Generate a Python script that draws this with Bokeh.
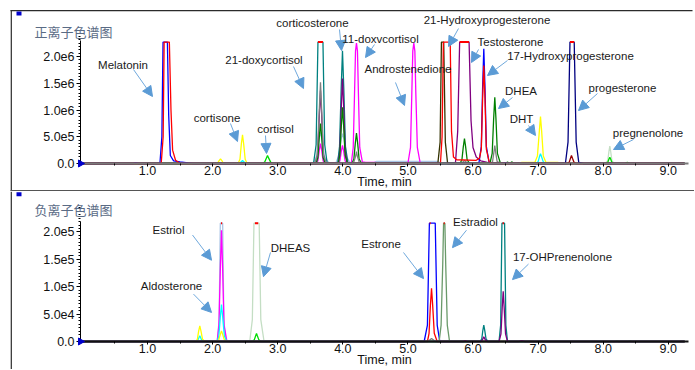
import numpy as np
from bokeh.plotting import figure
from bokeh.models import Range1d, FixedTicker, Label, Arrow, NormalHead, BoxAnnotation
from bokeh.layouts import column
from bokeh.embed import file_html
from bokeh.resources import INLINE

# ---------------- data ----------------
C = 2.27   # saturation level, positive panel (x 1e6)
B = 2.16   # saturation level, negative panel (x 1e5)

x_ticks = [1, 2, 3, 4, 5, 6, 7, 8, 9]
x_labels = ["1.0", "2.0", "3.0", "4.0", "5.0", "6.0", "7.0", "8.0", "9.0"]
pos_yticks = [0, 500000, 1000000, 1500000, 2000000]
pos_ylabels = ["0.0", "5.0e5", "1.0e6", "1.5e6", "2.0e6"]
neg_yticks = [0, 50000, 100000, 150000, 200000]
neg_ylabels = ["0.0", "5.0e4", "1.0e5", "1.5e5", "2.0e5"]

# positive-ion chromatogram traces (time, intensity x 1e6)
pos_lightblue_t = [0.0, 3.55, 3.60, 3.635, 3.657, 3.68, 3.72, 3.78, 3.89, 3.94, 3.975, 3.995, 4.02, 4.06, 4.12, 4.45, 4.52, 5.00, 5.45, 5.52, 9.25]
pos_lightblue_i = [0, 0, 0.15, 0.45, 0.58, 0.45, 0.12, 0.02, 0, 0.15, 0.45, 0.56, 0.45, 0.12, 0, 0, 0.04, 0.04, 0.04, 0, 0]
pos_teal_t = [0.0, 3.55, 3.59, 3.618, 3.695, 3.722, 3.76, 3.92, 3.950, 3.975, 3.995, 4.015, 4.040, 4.08, 9.25]
pos_teal_i = [0, 0, 0.35, C, C, 0.35, 0, 0, 0.32, 1.40, 2.11, 1.40, 0.32, 0, 0]
pos_magenta_t = [0.0, 3.59, 3.617, 3.639, 3.657, 3.675, 3.697, 3.73, 3.93, 3.955, 3.977, 3.995, 4.013, 4.035, 4.07, 4.13, 4.16, 4.18, 4.195, 4.21, 4.225, 4.24, 4.26, 4.30, 4.35, 4.50, 4.55, 5.00, 5.04, 5.06, 5.075, 5.091, 5.107, 5.122, 5.145, 5.19, 9.25]
pos_magenta_i = [0, 0, 0.05, 0.25, 0.374, 0.25, 0.05, 0, 0, 0.05, 0.23, 0.34, 0.23, 0.05, 0, 0, 0.3, 1.3, 2.1, 2.25, 2.1, 1.3, 0.3, 0.03, 0.02, 0.02, 0, 0, 0.3, 1.3, 2.1, 2.25, 2.1, 1.3, 0.3, 0, 0]
pos_purple_t = [0.0, 3.59, 3.617, 3.639, 3.657, 3.675, 3.697, 3.73, 3.93, 3.955, 3.977, 3.995, 4.013, 4.035, 4.07, 5.73, 5.765, 5.795, 5.94, 5.97, 6.00, 6.05, 6.12, 6.22, 6.30, 9.25]
pos_purple_i = [0, 0, 0.2, 0.91, 1.365, 0.91, 0.2, 0, 0, 0.24, 1.06, 1.59, 1.06, 0.24, 0, 0, 0.6, C, C, 0.8, 0.3, 0.12, 0.05, 0.02, 0, 0]
pos_darkgreen_t = [0.0, 3.59, 3.617, 3.639, 3.657, 3.675, 3.697, 3.73, 3.93, 3.955, 3.977, 3.995, 4.013, 4.035, 4.07, 4.14, 4.17, 4.192, 4.21, 4.228, 4.25, 4.29, 5.80, 5.83, 5.851, 5.869, 5.887, 5.91, 5.95, 6.26, 6.295, 6.317, 6.335, 6.353, 6.375, 6.42, 6.50, 6.53, 6.56, 6.60, 6.63, 9.25]
pos_darkgreen_i = [0, 0, 0.11, 0.5, 0.748, 0.5, 0.11, 0, 0, 0.16, 0.7, 1.05, 0.7, 0.16, 0, 0, 0.085, 0.38, 0.567, 0.38, 0.085, 0, 0, 0.07, 0.31, 0.467, 0.31, 0.07, 0, 0, 0.19, 0.83, 1.24, 0.83, 0.19, 0.01, 0, 0.03, 0, 0.03, 0, 0]
pos_gray_t = [0.0, 3.57, 3.605, 3.637, 3.657, 3.677, 3.705, 3.75, 4.13, 4.17, 4.195, 4.21, 4.225, 4.25, 4.30, 5.80, 5.85, 5.87, 5.89, 5.94, 6.26, 6.30, 6.32, 6.335, 6.35, 6.37, 6.42, 9.25]
pos_gray_i = [0, 0, 0.15, 0.95, 1.52, 0.95, 0.15, 0, 0, 0.03, 0.13, 0.224, 0.13, 0.03, 0, 0, 0.03, 0.06, 0.03, 0, 0, 0.03, 0.2, 0.337, 0.2, 0.04, 0, 0]
pos_yellow_t = [0.0, 2.05, 2.08, 2.103, 2.121, 2.139, 2.16, 2.19, 2.39, 2.42, 2.441, 2.459, 2.477, 2.50, 2.53, 6.70, 6.75, 6.95, 6.99, 7.019, 7.037, 7.055, 7.08, 7.12, 7.30, 7.36, 9.25]
pos_yellow_i = [0, 0, 0.015, 0.06, 0.088, 0.06, 0.015, 0, 0, 0.08, 0.365, 0.537, 0.365, 0.08, 0, 0, 0.02, 0.02, 0.14, 0.6, 0.879, 0.6, 0.14, 0.025, 0.02, 0, 0]
pos_cyan_t = [0.0, 2.40, 2.43, 2.459, 2.49, 2.52, 6.96, 7.00, 7.019, 7.037, 7.055, 7.08, 7.12, 9.25]
pos_cyan_i = [0, 0, 0.02, 0.056, 0.02, 0, 0, 0.03, 0.12, 0.181, 0.12, 0.03, 0, 0]
pos_lime_t = [0.0, 2.77, 2.80, 2.825, 2.843, 2.861, 2.89, 2.92, 8.03, 8.07, 8.088, 8.102, 8.116, 8.135, 8.17, 8.33, 8.37, 8.41, 9.25]
pos_lime_i = [0, 0, 0.03, 0.10, 0.150, 0.10, 0.03, 0, 0, 0.02, 0.08, 0.118, 0.08, 0.02, 0, 0, 0.02, 0, 0]
pos_palegreen_t = [0.0, 8.03, 8.07, 8.088, 8.102, 8.116, 8.135, 8.17, 9.25]
pos_palegreen_i = [0, 0, 0.05, 0.22, 0.323, 0.22, 0.05, 0, 0]
pos_olive_t = [0.0, 5.46, 5.495, 5.515, 5.55, 5.575, 5.61, 9.25]
pos_olive_i = [0, 0, 0.4, C, C, 0.4, 0, 0]
pos_blue_t = [0.0, 0.78, 0.82, 0.86, 1.19, 1.22, 1.238, 1.305, 1.325, 1.35, 1.40, 1.50, 1.62, 1.70, 6.09, 6.128, 6.148, 6.166, 6.184, 6.205, 6.25, 6.45, 6.50, 6.55, 9.25]
pos_blue_i = [0, 0, 0.01, 0, 0, 0.5, C, C, 0.9, 0.15, 0.05, 0.03, 0.01, 0, 0, 0.32, 1.43, 2.145, 1.43, 0.32, 0, 0, 0.01, 0, 0]
pos_red_t = [0.0, 1.21, 1.24, 1.255, 1.335, 1.36, 1.385, 1.43, 1.50, 5.50, 5.525, 5.545, 5.65, 5.67, 5.70, 5.75, 6.05, 6.10, 6.128, 6.148, 6.166, 6.184, 6.205, 6.25, 6.30, 9.25]
pos_red_i = [0, 0, 0.5, C, C, 1.0, 0.25, 0.06, 0, 0, 0.5, C, C, 0.6, 0.12, 0.07, 0.06, 0.1, 0.27, 1.22, 1.83, 1.22, 0.27, 0.02, 0, 0]
pos_navy_t = [0.0, 7.42, 7.46, 7.49, 7.555, 7.585, 7.625, 7.70, 9.25]
pos_navy_i = [0, 0, 0.4, C, C, 0.4, 0.02, 0, 0]
pos_darkred_t = [0.0, 7.45, 7.48, 7.498, 7.513, 7.528, 7.55, 7.58, 9.25]
pos_darkred_i = [0, 0, 0.03, 0.1, 0.15, 0.1, 0.03, 0, 0]
pos_clip_start = [3.618, 5.795, 7.49]
pos_clip_end = [3.695, 5.94, 7.555]

# negative-ion chromatogram traces (time, intensity x 1e5)
neg_lightblue_t = [0.0, 2.07, 2.10, 2.118, 2.154, 2.172, 2.20, 2.25, 9.25]
neg_lightblue_i = [0, 0, 0.4, B, B, 0.4, 0.03, 0, 0]
neg_magenta_t = [0.0, 2.07, 2.097, 2.12, 2.136, 2.152, 2.175, 2.22, 9.25]
neg_magenta_i = [0, 0, 0.3, 1.4, 2.03, 1.4, 0.3, 0, 0]
neg_cyan_t = [0.0, 1.75, 1.775, 1.803, 1.83, 1.86, 2.07, 2.095, 2.118, 2.136, 2.154, 2.18, 2.22, 9.25]
neg_cyan_i = [0, 0, 0.03, 0.106, 0.03, 0, 0, 0.1, 0.45, 0.676, 0.45, 0.1, 0, 0]
neg_yellow_t = [0.0, 1.74, 1.765, 1.785, 1.803, 1.821, 1.845, 1.88, 2.07, 2.095, 2.118, 2.136, 2.154, 2.18, 2.22, 9.25]
neg_yellow_i = [0, 0, 0.04, 0.19, 0.283, 0.19, 0.04, 0, 0, 0.03, 0.13, 0.194, 0.13, 0.03, 0, 0]
neg_palegreen_t = [0.0, 2.57, 2.61, 2.635, 2.715, 2.74, 2.79, 9.25]
neg_palegreen_i = [0, 0, 0.4, B, B, 0.4, 0, 0]
neg_lime_t = [0.0, 2.61, 2.64, 2.66, 2.674, 2.688, 2.71, 2.74, 8.18, 8.21, 8.24, 8.38, 8.41, 8.44, 9.25]
neg_lime_i = [0, 0, 0.03, 0.1, 0.147, 0.1, 0.03, 0, 0, 0.01, 0, 0, 0.01, 0, 0]
neg_blue_t = [0.0, 5.25, 5.30, 5.33, 5.42, 5.45, 5.49, 9.25]
neg_blue_i = [0, 0, 0.3, B, B, 0.3, 0, 0]
neg_red_t = [0.0, 5.30, 5.325, 5.345, 5.363, 5.381, 5.405, 5.45, 9.25]
neg_red_i = [0, 0, 0.15, 0.65, 0.971, 0.65, 0.15, 0, 0]
neg_gray_t = [0.0, 5.31, 5.34, 5.363, 5.39, 5.42, 9.25]
neg_gray_i = [0, 0, 0.03, 0.053, 0.03, 0, 0]
neg_sage_t = [0.0, 5.48, 5.51, 5.535, 5.548, 5.568, 5.581, 5.605, 5.64, 9.25]
neg_sage_i = [0, 0, 0.3, 1.4, B, B, 1.4, 0.3, 0, 0]
neg_teal_t = [0.0, 6.11, 6.135, 6.151, 6.166, 6.181, 6.20, 6.23, 6.40, 6.425, 6.445, 6.485, 6.505, 6.53, 9.25]
neg_teal_i = [0, 0, 0.05, 0.2, 0.30, 0.2, 0.05, 0, 0, 0.3, B, B, 0.3, 0, 0]
neg_purple_t = [0.0, 5.85, 5.88, 5.91, 6.12, 6.145, 6.166, 6.19, 6.22, 6.40, 6.43, 6.449, 6.464, 6.479, 6.50, 6.53, 6.70, 6.75, 6.80, 9.25]
neg_purple_i = [0, 0, 0.01, 0, 0, 0.03, 0.088, 0.03, 0, 0, 0.14, 0.62, 0.918, 0.62, 0.14, 0, 0, 0.01, 0, 0]
neg_clip_start = [2.128, 2.650, 5.335, 5.550, 6.455]
neg_clip_end = [2.146, 2.700, 5.350, 5.566, 6.475]

# peak annotations (label position and arrow, intensities in panel units)
pos_ann_text = ["Melatonin", "cortisone", "cortisol", "21-doxycortisol", "corticosterone", "11-doxvcortisol",
                "Androstenedione", "21-Hydroxyprogesterone", "Testosterone", "17-Hydroxyprogesterone",
                "DHEA", "DHT", "progesterone", "pregnenolone"]
pos_ann_x = [0.623, 2.067, 2.966, 2.789, 3.534, 4.579, 5.002, 6.215, 6.576, 7.498, 6.738, 6.745, 8.297, 8.689]
pos_ann_y = [1.851, 0.860, 0.636, 1.926, 2.627, 2.319, 1.776, 2.674, 2.263, 2.019, 1.365, 0.823, 1.421, 0.561]
pos_arr_x0 = [0.784, 2.274, 2.812, 3.242, 3.949, 4.487, 4.809, 5.777, 6.085, 6.530, 6.607, 6.853, 7.913, 8.466]
pos_arr_y0 = [1.758, 0.748, 0.524, 1.814, 2.506, 2.225, 1.515, 2.524, 2.132, 1.926, 1.234, 0.711, 1.309, 0.449]
pos_arr_x1 = [1.076, 2.382, 2.828, 3.396, 3.980, 4.349, 4.948, 5.624, 5.977, 6.223, 6.392, 6.960, 7.621, 8.159]
pos_arr_y1 = [1.253, 0.411, 0.187, 1.402, 2.113, 1.982, 1.085, 2.188, 1.889, 1.646, 1.028, 0.524, 0.991, 0.262]

neg_ann_text = ["Estriol", "Aldosterone", "DHEAS", "Estrone", "Estradiol", "17-OHPrenenolone"]
neg_ann_x = [1.322, 1.368, 3.196, 4.587, 6.038, 7.375]
neg_ann_y = [2.031, 1.007, 1.713, 1.784, 2.172, 1.536]
neg_arr_x0 = [1.691, 1.706, 2.889, 4.932, 5.900, 6.853]
neg_arr_y0 = [1.943, 0.865, 1.625, 1.625, 2.031, 1.413]
neg_arr_x1 = [1.983, 1.983, 2.781, 5.240, 5.685, 6.607]
neg_arr_y1 = [1.483, 0.530, 1.183, 1.148, 1.713, 1.130]

# ---------------- styling / layout ----------------
FONT = "Liberation Sans"
CJK = "Noto Sans CJK SC"
W = 694
TOP_H, BOT_H = 191, 178
X_AXIS_START = -0.03
X_AXIS_END = 9.311
VIEW_X = (-1.2591, 9.4031)          # whole canvas width
ARROW_HEAD = "#5b9bd5"
ARROW_LINE = "#6fa8dc"

pos_traces = [
    (pos_lightblue_t, pos_lightblue_i, "#a8c4e6"),
    (pos_teal_t, pos_teal_i, "#008080"),
    (pos_magenta_t, pos_magenta_i, "#ff00ff"),
    (pos_purple_t, pos_purple_i, "#800080"),
    (pos_darkgreen_t, pos_darkgreen_i, "#008000"),
    (pos_gray_t, pos_gray_i, "#808080"),
    (pos_yellow_t, pos_yellow_i, "#ffff00"),
    (pos_cyan_t, pos_cyan_i, "#00ffff"),
    (pos_palegreen_t, pos_palegreen_i, "#c4dec4"),
    (pos_lime_t, pos_lime_i, "#00dd00"),
    (pos_olive_t, pos_olive_i, "#333300"),
    (pos_blue_t, pos_blue_i, "#0000ff"),
    (pos_red_t, pos_red_i, "#ff0000"),
    (pos_navy_t, pos_navy_i, "#000080"),
    (pos_darkred_t, pos_darkred_i, "#990000"),
]
neg_traces = [
    (neg_lightblue_t, neg_lightblue_i, "#a8c4e6"),
    (neg_magenta_t, neg_magenta_i, "#ff00ff"),
    (neg_cyan_t, neg_cyan_i, "#00ffff"),
    (neg_yellow_t, neg_yellow_i, "#ffff00"),
    (neg_palegreen_t, neg_palegreen_i, "#c4dec4"),
    (neg_lime_t, neg_lime_i, "#00dd00"),
    (neg_blue_t, neg_blue_i, "#0000ff"),
    (neg_red_t, neg_red_i, "#ff0000"),
    (neg_gray_t, neg_gray_i, "#808080"),
    (neg_sage_t, neg_sage_i, "#6a9a6a"),
    (neg_teal_t, neg_teal_i, "#008080"),
    (neg_purple_t, neg_purple_i, "#800080"),
]


def canvas_box(p, left, right, top, bottom, color):
    p.add_layout(BoxAnnotation(left=left, right=right, top=top, bottom=bottom,
                               left_units="canvas", right_units="canvas",
                               top_units="canvas", bottom_units="canvas",
                               fill_color=color, fill_alpha=1.0, line_color=None))


def make_panel(height, unit, view_y, axis_top, yticks, ylabels, minor_step,
               traces, clip_start, clip_end, clip_level, ann, axis_color, title, title_y):
    p = figure(width=W, height=height, x_range=Range1d(*VIEW_X),
               y_range=Range1d(view_y[0], view_y[1]), output_backend="svg", toolbar_location=None,
               min_border_left=0, min_border_right=0, min_border_top=0, min_border_bottom=0)
    p.outline_line_color = None
    p.xgrid.visible = False
    p.ygrid.visible = False
    p.background_fill_color = "white"
    p.border_fill_color = "white"

    for t, i, col in traces:
        p.line(t, [v * unit for v in i], line_color=col, line_width=1.3)
    p.segment(x0=clip_start, y0=[clip_level * unit] * len(clip_start), x1=clip_end,
              y1=[clip_level * unit] * len(clip_start), line_color="#ff0000", line_width=2)

    # x axis (drawn at y = 0)
    xa = p.xaxis[0]
    xa.fixed_location = 0
    xa.bounds = (X_AXIS_START, X_AXIS_END)
    xa.ticker = FixedTicker(ticks=x_ticks, minor_ticks=[k + 0.5 for k in range(0, 9)])
    xa.major_label_overrides = dict(zip(x_ticks, x_labels))
    xa.axis_line_color = axis_color
    xa.axis_line_width = 2
    xa.major_tick_line_color = "#000000"
    xa.minor_tick_line_color = "#000000"
    xa.major_tick_out = 3
    xa.major_tick_in = 0
    xa.minor_tick_out = 2
    xa.minor_tick_in = 0
    xa.major_label_standoff = -1
    xa.major_label_text_font = FONT
    xa.major_label_text_font_size = "12.5px"
    xa.major_label_text_color = "#111111"
    xa.axis_label = "Time, min"
    xa.axis_label_standoff = -3
    xa.axis_label_text_font = FONT
    xa.axis_label_text_font_size = "12.5px"
    xa.axis_label_text_font_style = "normal"
    xa.axis_label_text_color = "#111111"

    # y axis (drawn at the start of the time axis)
    ya = p.yaxis[0]
    ya.fixed_location = X_AXIS_START
    ya.bounds = (0, axis_top * unit)
    ya.ticker = FixedTicker(ticks=yticks, minor_ticks=[k * minor_step for k in range(0, 40)])
    ya.major_label_overrides = dict(zip(yticks, ylabels))
    ya.axis_line_color = "#000000"
    ya.axis_line_width = 1
    ya.major_tick_out = 4
    ya.major_tick_in = 0
    ya.minor_tick_out = 2
    ya.minor_tick_in = 0
    ya.major_label_standoff = 2
    ya.major_label_text_font = FONT
    ya.major_label_text_font_size = "12.5px"
    ya.major_label_text_color = "#111111"

    # zero marker on the y axis
    p.scatter(x=[X_AXIS_START], y=[0], marker="triangle", size=7, angle=-np.pi / 2,
              fill_color="#0000cc", line_color="#0000cc", level="overlay")

    # peak annotations
    text, ax, ay, x0, y0, x1, y1 = ann
    for k in range(len(text)):
        p.add_layout(Arrow(end=NormalHead(size=10, fill_color=ARROW_HEAD, line_color=ARROW_HEAD, line_width=1),
                           x_start=x0[k], y_start=y0[k] * unit, x_end=x1[k], y_end=y1[k] * unit,
                           line_color=ARROW_LINE, line_width=1))
        p.add_layout(Label(x=ax[k], y=ay[k] * unit, text=text[k], text_font=FONT,
                           text_font_size="11.5px", text_align="center", text_baseline="middle",
                           text_color="#1a1a1a"))

    # panel title
    p.add_layout(Label(x=34, y=title_y, x_units="canvas", y_units="canvas", text=title,
                       text_font=CJK, text_font_size="13px", text_color="#5a6b85",
                       text_baseline="middle", text_align="left"))
    return p


# top panel: y=0 at canvas 163, axis top (2.30e6) at canvas 40
p1 = make_panel(TOP_H, 1e6, (-0.52357e6, 3.04794e6), 2.30, pos_yticks, pos_ylabels, 62500,
                pos_traces, pos_clip_start, pos_clip_end, C,
                (pos_ann_text, pos_ann_x, pos_ann_y, pos_arr_x0, pos_arr_y0, pos_arr_x1, pos_arr_y1),
                "#7a7a7a", "正离子色谱图", 30.7)
# bottom panel: y=0 at canvas 150, axis top (2.19e5) at canvas 30
p2 = make_panel(BOT_H, 1e5, (-0.511e5, 2.7375e5), 2.19, neg_yticks, neg_ylabels, 6250,
                neg_traces, neg_clip_start, neg_clip_end, B,
                (neg_ann_text, neg_ann_x, neg_ann_y, neg_arr_x0, neg_arr_y0, neg_arr_x1, neg_arr_y1),
                "#111111", "负离子色谱图", 18.3)

# frame lines and corner marks
canvas_box(p1, 10, 692, 9.5, 10.8, "#2b2b2b")
canvas_box(p1, 10.2, 11.4, 9.5, TOP_H, "#2b2b2b")
canvas_box(p1, 10, W, 189.6, 191, "#555555")
canvas_box(p1, 16, 21, 11, 15, "#0000cc")
canvas_box(p2, 10.2, 11.4, 0, BOT_H, "#2b2b2b")
canvas_box(p2, 16, 21, 0.7, 4.7, "#0000cc")

layout = column(p1, p2, spacing=0)
open("out.html", "w").write(file_html(layout, INLINE))
